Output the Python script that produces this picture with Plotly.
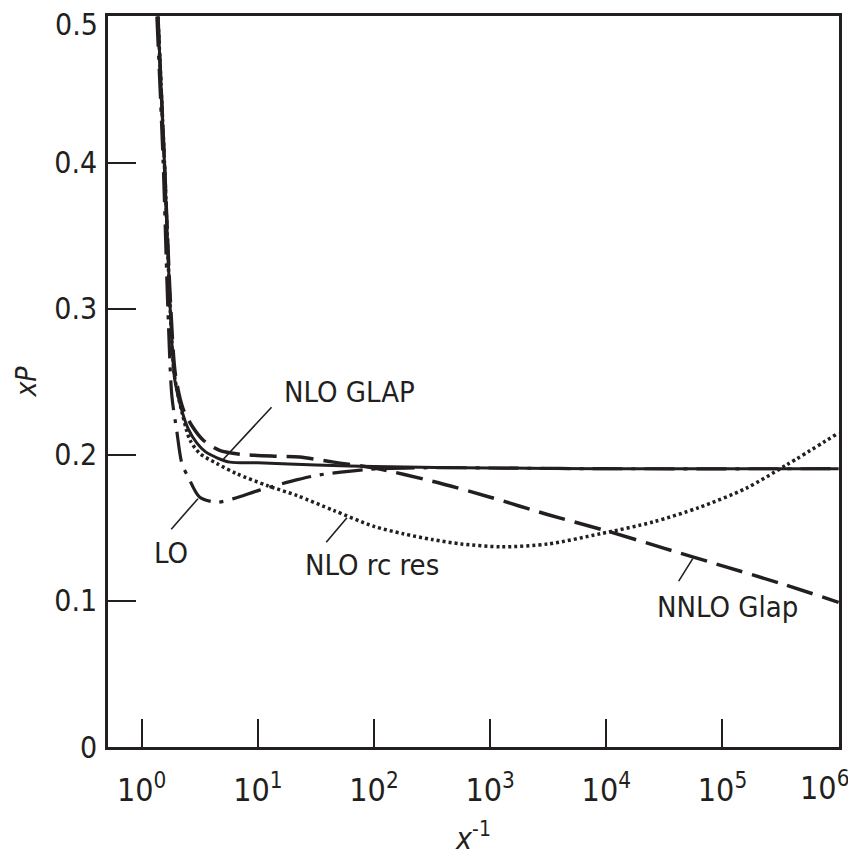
import plotly.graph_objects as go
import math

# ---- data (x^-1 values and xP values) ----
glap_x = [1.38, 1.57, 1.76, 1.86, 1.93, 2.26, 2.51, 2.99, 3.55, 4.45, 5.75, 10, 31.6, 100, 1e3, 1e4, 1e5, 1e6]
glap_y = [0.5, 0.4, 0.3, 0.265, 0.251, 0.228, 0.218, 0.208, 0.202, 0.198, 0.195, 0.1945, 0.193, 0.192, 0.191, 0.1905, 0.1905, 0.1905]

nnlo_x = [1.38, 1.57, 1.78, 1.95, 2.26, 2.75, 3.39, 4.68, 7.08, 14.5, 22.9, 44.7, 100, 316, 1000, 3162, 1e4, 31623, 1e5, 316228, 1e6]
nnlo_y = [0.5, 0.4, 0.3, 0.255, 0.232, 0.219, 0.210, 0.203, 0.2004, 0.199, 0.1985, 0.195, 0.191, 0.182, 0.171, 0.159, 0.148, 0.136, 0.124, 0.112, 0.099]

rc_x = [1.38, 1.57, 1.76, 1.91, 2.24, 2.61, 3.16, 4.45, 6.61, 12.0, 21.9, 44.7, 100, 178, 316, 562, 1259, 3162, 8913, 25119, 63096, 158489, 354813, 1e6]
rc_y = [0.5, 0.4, 0.3, 0.255, 0.228, 0.210, 0.201, 0.194, 0.187, 0.179, 0.172, 0.162, 0.151, 0.146, 0.142, 0.139, 0.137, 0.139, 0.146, 0.154, 0.164, 0.177, 0.193, 0.215]

lo_x = [1.35, 1.53, 1.68, 1.82, 2.0, 2.22, 2.51, 3.16, 4.45, 6.17, 10.5, 21.9, 32.4, 87.1, 316, 1000, 1e4, 1e6]
lo_y = [0.5, 0.4, 0.3, 0.24, 0.217, 0.194, 0.185, 0.171, 0.1676, 0.170, 0.176, 0.183, 0.186, 0.190, 0.1912, 0.191, 0.1905, 0.1905]

x_tickvals = [1, 10, 100, 1e3, 1e4, 1e5, 1e6]
x_ticktext = ["10<sup>0</sup>", "10<sup>1</sup>", "10<sup>2</sup>", "10<sup>3</sup>",
              "10<sup>4</sup>", "10<sup>5</sup>", "10<sup>6</sup>"]
y_tickvals = [0, 0.1, 0.2, 0.3, 0.4, 0.5]
y_ticktext = ["0", "0.1", "0.2", "0.3", "0.4", "0.5"]

# labels: (text, text position x^-1, xP, leader end x^-1, xP, leader offset px)
labels = [
    ("NLO GLAP", 16.1, 0.243, 4.91, 0.196, 51, -55),
    ("LO", 1.23, 0.133, 3.05, 0.170, -28, 32),
    ("NLO rc res", 24.4, 0.1245, 58.5, 0.157, -22, 26),
    ("NNLO Glap", 26122, 0.0958, 55463, 0.129, -15, 24),
]

INK = "#231f20"
FONT = "DejaVu Sans Condensed, Liberation Sans Narrow, sans-serif"
XTICK_SIZE = 32
YTICK_SIZE = 30

fig = go.Figure()
fig.add_trace(go.Scatter(x=lo_x, y=lo_y, mode="lines", name="LO",
                         line=dict(color=INK, width=3.2, dash="30px,9px,4px,9px", shape="spline", smoothing=0.8)))
fig.add_trace(go.Scatter(x=rc_x, y=rc_y, mode="lines", name="NLO rc res",
                         line=dict(color=INK, width=3.5, dash="3px,3px", shape="spline", smoothing=0.8)))
fig.add_trace(go.Scatter(x=nnlo_x, y=nnlo_y, mode="lines", name="NNLO Glap",
                         line=dict(color=INK, width=3.5, dash="27px,10px", shape="spline", smoothing=0.8)))
fig.add_trace(go.Scatter(x=glap_x, y=glap_y, mode="lines", name="NLO GLAP",
                         line=dict(color=INK, width=3, shape="spline", smoothing=0.8)))

for text, tx, ty, ex, ey, ax, ay in labels:
    fig.add_annotation(x=math.log10(ex), y=ey, xref="x", yref="y", text="",
                       showarrow=True, arrowhead=0, arrowwidth=1.6, arrowcolor=INK,
                       ax=ax, ay=ay, axref="pixel", ayref="pixel", standoff=0, startstandoff=0)
    fig.add_annotation(x=math.log10(tx), y=ty, xref="x", yref="y", text=text,
                       showarrow=False, xanchor="left", yanchor="middle",
                       font=dict(family=FONT, size=29, color=INK))

# edge tick labels are nudged inward (as in the original) so they are not clipped
x_shown = list(x_ticktext[:-1]) + [""]
y_shown = list(y_ticktext[:-1]) + [""]
fig.add_annotation(x=1, y=0, xref="paper", yref="paper", text=x_ticktext[-1],
                   showarrow=False, xanchor="right", yanchor="top", xshift=12, yshift=-16,
                   font=dict(family=FONT, size=XTICK_SIZE, color=INK))
fig.add_annotation(x=0, y=1, xref="paper", yref="paper", text=y_ticktext[-1],
                   showarrow=False, xanchor="right", yanchor="top", xshift=-8, yshift=11,
                   font=dict(family=FONT, size=YTICK_SIZE, color=INK))

fig.update_layout(
    width=848, height=850,
    margin=dict(l=100, r=17, t=8, b=111, autoexpand=False),
    paper_bgcolor="white", plot_bgcolor="white",
    showlegend=False,
    font=dict(family=FONT, size=30, color=INK),
)
fig.update_xaxes(type="log", range=[-0.29, 6.003], automargin=False,
                 tickvals=x_tickvals, ticktext=x_shown,
                 ticks="inside", ticklen=28, tickwidth=2, tickcolor=INK,
                 showline=True, linewidth=2.5, linecolor=INK, mirror=True,
                 showgrid=False, zeroline=False,
                 ticklabelstandoff=13, ticklabeloverflow="allow",
                 tickfont=dict(family=FONT, size=XTICK_SIZE, color=INK),
                 title=dict(text="<i>x</i><sup>-1</sup>", standoff=20,
                            font=dict(family=FONT, size=30, color=INK)))
fig.update_yaxes(range=[0, 0.5004], automargin=False,
                 tickvals=y_tickvals, ticktext=y_shown,
                 ticks="inside", ticklen=28, tickwidth=2, tickcolor=INK,
                 showline=True, linewidth=2.5, linecolor=INK, mirror=True,
                 showgrid=False, zeroline=False,
                 ticklabelstandoff=2, ticklabeloverflow="allow",
                 tickfont=dict(family=FONT, size=YTICK_SIZE, color=INK),
                 title=dict(text="<i>xP</i>", standoff=10,
                            font=dict(family=FONT, size=28, color=INK)))

fig.write_html("out.html")
